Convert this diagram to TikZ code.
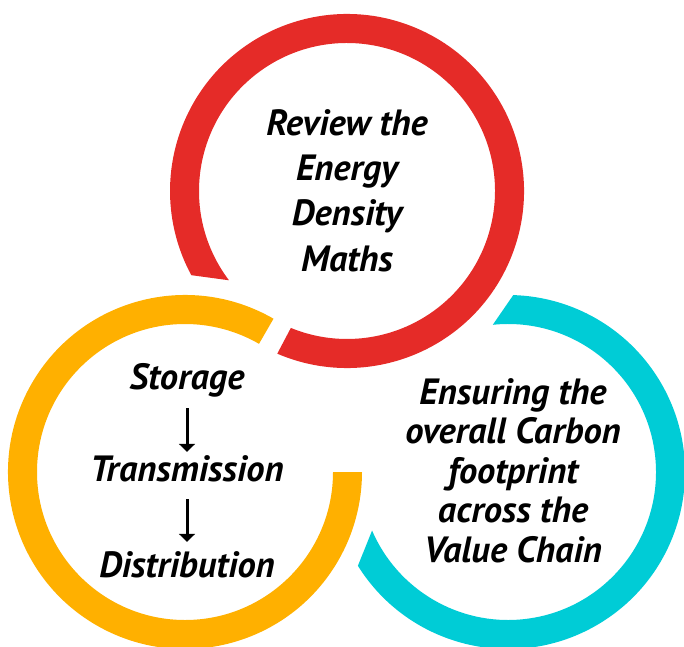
\documentclass[tikz,border=0pt]{standalone}
\usepackage{fontspec}
\setmainfont{PT Sans}
\usetikzlibrary{positioning, arrows.meta, calc}

\definecolor{ringred}{RGB}{229,43,40}
\definecolor{ringorange}{RGB}{255,176,0}
\definecolor{ringcyan}{RGB}{0,204,214}

\tikzset{
  ringtext/.style={font=\fontsize{36.5}{#1}\selectfont\bfseries\itshape, align=center, inner sep=0pt},
  ringtext/.default=45,
  stepword/.style={ringtext, anchor=base, text height=20pt, text depth=8pt},
  flow/.style={-{Triangle[width=16pt,length=8pt]}, line width=3pt},
}

% one open ring: colour, centre, outer start/end angle, inner start/end angle
\newcommand{\ringpiece}[6]{%
  \fill[#1] ($(#2)+(#3:177pt)$) arc[start angle=#3, end angle=#4, radius=177pt]
    -- ($(#2)+(#6:148pt)$) arc[start angle=#6, end angle=#5, radius=148pt] -- cycle;
}

\begin{document}
\begin{tikzpicture}[x=1pt, y=1pt]
  \useasboundingbox (0,0) rectangle (684,646);

  % Ring centres
  \coordinate (redc) at (347,455);
  \coordinate (orangec) at (185,174);
  \coordinate (cyanc) at (508,174);

  % Rings
  \ringpiece{ringred}{redc}{246.8}{568.4}{247.7}{577.1}
  \ringpiece{ringorange}{orangec}{60}{360}{60}{360}
  \ringpiece{ringcyan}{cyanc}{212}{448.3}{203.3}{455.9}

  % Texts (base = last line)
  \node[ringtext, anchor=base] (review) at (347,375) {Review the\\Energy\\Density\\Maths};
  \node[ringtext=39.5, anchor=base] (carbon) at (513,84) {Ensuring the\\overall Carbon\\footprint\\across the\\Value Chain};

  \node[stepword] (storage) at (187,257) {Storage};
  \node[stepword] (transmission) at (187,165) {Transmission};
  \node[stepword] (distribution) at (187,69) {Distribution};

  % Arrows
  \draw[flow, shorten <=11pt, shorten >=9pt] (storage) -- (transmission);
  \draw[flow, shorten <=10pt, shorten >=15pt] (transmission) -- (distribution);
\end{tikzpicture}
\end{document}
